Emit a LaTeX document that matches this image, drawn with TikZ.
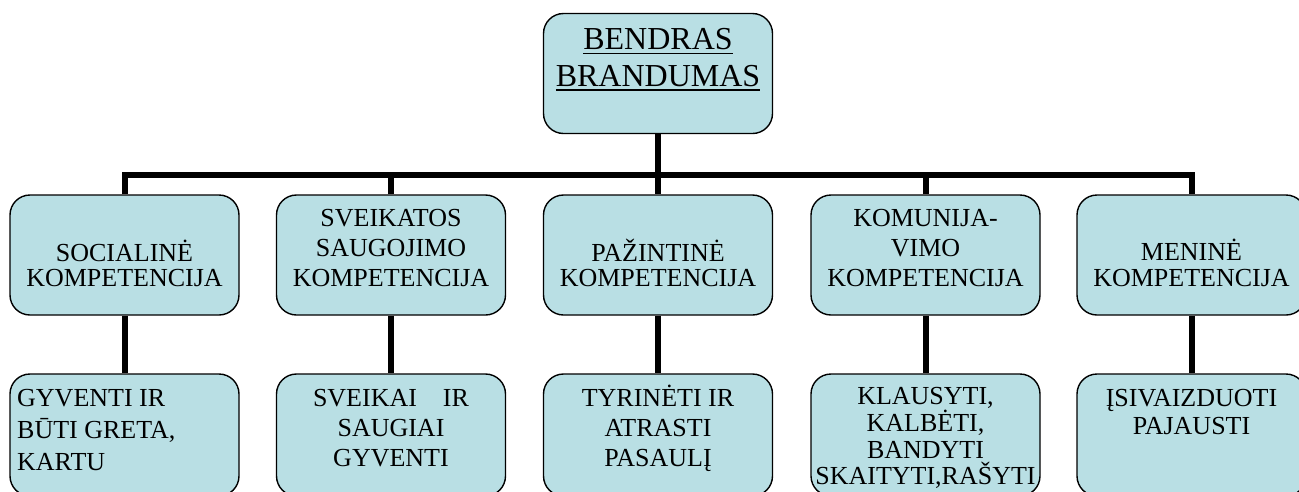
\documentclass[tikz,border=0pt]{standalone}
\usepackage{fontspec}
\setmainfont{Liberation Serif}
\definecolor{boxfill}{RGB}{185,223,228}
\newcommand{\ulword}[1]{\setbox0\hbox{#1}\rlap{\rule[-4.6pt]{\wd0}{1.6pt}}\box0}
\begin{document}
\begin{tikzpicture}[x=1pt,y=-1pt,
  box/.style={draw=black, line width=1.4pt, fill=boxfill, rounded corners=20pt,
              minimum width=229pt, minimum height=120pt, inner sep=0pt},
  lowbox/.style={box, minimum height=122pt},
  conn/.style={line width=6pt, black},
  txt/.style={inner sep=0pt, anchor=base, align=center},
  f26/.style={font=\fontsize{26}{#1}\selectfont},
]
\useasboundingbox (0,0) rectangle (1299,491);
\clip (0,0) rectangle (1299,491);

% boxes
\node[box] (top) at (658,73.5) {};
\node[box] (m1) at (124.5,255) {};
\node[box] (m2) at (391,255) {};
\node[box] (m3) at (658,255) {};
\node[box] (m4) at (925.5,255) {};
\node[box] (m5) at (1191.5,255) {};
\node[lowbox] (b1) at (124.5,435) {};
\node[lowbox] (b2) at (391,435) {};
\node[lowbox] (b3) at (658,435) {};
\node[lowbox] (b4) at (925.5,435) {};
\node[lowbox] (b5) at (1191.5,435) {};

% connectors
\coordinate (bar) at (658,175);
\draw[conn] (m1.north) |- (bar) -| (m5.north);
\draw[conn] (top.south) -- (m3.north);
\draw[conn] (m2.north) -- (m2.north |- bar);
\draw[conn] (m4.north) -- (m4.north |- bar);
\foreach \i in {1,...,5}{\draw[conn] (m\i.south) -- (b\i.north);}

% texts (anchored at the baseline of the last line)
\node[txt, font=\fontsize{32}{36.5}\selectfont] (topt) at (658,86) {\ulword{BENDRAS}\\\ulword{BRANDUMAS}};

\node[txt, f26=25] (m1t) at (124.5,286.7) {SOCIALINĖ\\KOMPETENCIJA};
\node[txt, f26=30] (m2t) at (391,286.7) {SVEIKATOS\\SAUGOJIMO\\KOMPETENCIJA};
\node[txt, f26=25] (m3t) at (658,286.7) {PAŽINTINĖ\\KOMPETENCIJA};
\node[txt, f26=30] (m4t) at (925.5,286.7) {KOMUNIJA-\\VIMO\\KOMPETENCIJA};
\node[txt, f26=26] (m5t) at (1191.5,286.7) {MENINĖ\\KOMPETENCIJA};

\node[txt, f26=32, anchor=base west, align=left] (b1t) at (17,470.5) {GYVENTI IR\\BŪTI GRETA,\\KARTU};
\node[txt, f26=30] (b2t) at (391,466.7) {SVEIKAI\hspace{26pt}IR\\SAUGIAI\\GYVENTI};
\node[txt, f26=30] (b3t) at (658,466.7) {TYRINĖTI IR\\ATRASTI\\PASAULĮ};
\node[txt, f26=26.8] (b4t) at (925.5,484.9) {KLAUSYTI,\\KALBĖTI,\\BANDYTI\\SKAITYTI,RAŠYTI};
\node[txt, f26=28] (b5t) at (1191.5,434.7) {ĮSIVAIZDUOTI\\PAJAUSTI};
\end{tikzpicture}
\end{document}
